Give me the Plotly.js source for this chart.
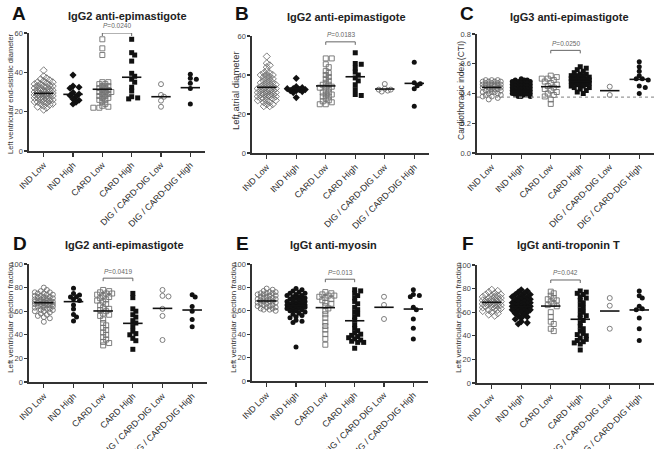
<!DOCTYPE html>
<html>
<head>
<meta charset="utf-8">
<script src="https://cdn.plot.ly/plotly-3.0.1.min.js"></script>
<style>
  html, body { margin: 0; padding: 0; background: #fff; }
  #chart { width: 657px; height: 449px; }
</style>
</head>
<body>
<div id="chart"></div>
<script>
// Antibody level groups (x categories shared by every panel)
const groups = ['IND Low', 'IND High', 'CARD Low', 'CARD High', 'DIG / CARD-DIG Low', 'DIG / CARD-DIG High'];

// Panel A: IgG2 anti-epimastigote vs LV end-systolic diameter
const aIndLow = [41, 38, 37, 36.5, 36, 35.5, 35, 34.5, 34, 34, 33.5, 33, 33, 32.5, 32, 32, 31.5, 31, 31, 30.5, 30.5, 30, 30, 30, 29.5, 29.5, 29, 29, 29, 28.5, 28.5, 28, 28, 28, 27.5, 27, 27, 26.5, 26.5, 26, 26, 25.5, 25, 25, 24.5, 24, 24, 23.5, 23, 22.5, 22, 21, 35, 33, 31, 27, 25, 29];
const aIndHigh = [38.6, 33, 32.4, 31.9, 29.8, 29, 28.2, 27.6, 26.5, 25.8, 24.8, 23.9];
const aCardLow = [56.8, 52.2, 48.8, 35, 35, 34, 34, 33, 33, 32, 32, 31, 31, 30, 30, 30, 29, 29, 28, 28, 27, 27, 26, 26, 25, 24, 23, 22.5, 22, 22];
const aCardHigh = [56.8, 50, 48.8, 45.7, 39.5, 38, 36.5, 35, 32.4, 30.5, 27.6, 27, 26.5];
const aDigLow = [34, 28.5, 27.6, 25.6, 22.5];
const aDigHigh = [39, 37, 36.5, 34.4, 31.8, 23.9];
const aCenter = [29.3, 28.8, 31.4, 37.5, 27.6, 32.2];

// Panel B: IgG2 anti-epimastigote vs left atrial diameter
const bIndLow = [49.5, 46, 45, 44, 42, 41, 41, 40, 40, 40, 39, 39, 38, 38, 37, 37, 36, 36, 36, 35, 35, 35, 34, 34, 34, 33, 33, 33, 33, 32, 32, 32, 32, 31, 31, 31, 31, 30, 30, 30, 30, 30, 29, 29, 29, 29, 28, 28, 28, 27, 27, 27, 26, 26, 25, 25, 24, 24];
const bIndHigh = [38.3, 34, 33.5, 33, 33, 32.5, 32.5, 32, 32, 31.5, 31, 28.4];
const bCardLow = [48.5, 48.5, 45.5, 44, 42, 41, 40, 39, 38, 37, 36, 35, 35, 34, 34, 33.5, 33, 32, 31, 31, 30, 30, 29, 29, 28, 27, 26.5, 26, 25, 25];
const bCardHigh = [51.4, 45.9, 45.5, 43.5, 41.5, 40, 38.5, 37, 35, 32.5, 30, 29.5];
const bDigLow = [35.4, 33, 32.5, 32.5, 32, 31.5];
const bDigHigh = [46.5, 36, 35.5, 34.5, 33, 24];
const bCenter = [33.7, 33.0, 34.4, 39.1, 32.8, 35.7];

// Panel C: IgG3 anti-epimastigote vs cardiothoracic index
const cIndLow = [0.49, 0.49, 0.49, 0.48, 0.48, 0.48, 0.48, 0.47, 0.47, 0.47, 0.46, 0.46, 0.46, 0.46, 0.45, 0.45, 0.45, 0.45, 0.44, 0.44, 0.44, 0.43, 0.43, 0.43, 0.42, 0.42, 0.42, 0.41, 0.41, 0.41, 0.40, 0.40, 0.39, 0.39, 0.38, 0.38, 0.37, 0.36];
const cIndHigh = [0.50, 0.49, 0.49, 0.49, 0.48, 0.48, 0.48, 0.48, 0.47, 0.47, 0.47, 0.47, 0.46, 0.46, 0.46, 0.46, 0.45, 0.45, 0.45, 0.45, 0.44, 0.44, 0.44, 0.44, 0.43, 0.43, 0.43, 0.43, 0.42, 0.42, 0.42, 0.42, 0.42, 0.41, 0.41, 0.41, 0.41, 0.40, 0.40, 0.40, 0.40, 0.39, 0.39, 0.39, 0.38, 0.38, 0.38];
const cCardLow = [0.52, 0.51, 0.50, 0.50, 0.49, 0.48, 0.47, 0.46, 0.45, 0.44, 0.43, 0.42, 0.41, 0.40, 0.39, 0.38, 0.36, 0.33];
const cCardHigh = [0.58, 0.57, 0.56, 0.55, 0.54, 0.53, 0.53, 0.52, 0.52, 0.52, 0.51, 0.51, 0.51, 0.50, 0.50, 0.50, 0.50, 0.49, 0.49, 0.49, 0.49, 0.48, 0.48, 0.48, 0.48, 0.47, 0.47, 0.47, 0.46, 0.46, 0.46, 0.45, 0.45, 0.44, 0.44, 0.43, 0.42, 0.41, 0.40];
const cDigLow = [0.446, 0.39];
const cDigHigh = [0.614, 0.58, 0.55, 0.52, 0.50, 0.50, 0.49, 0.45, 0.44, 0.40];
const cCenter = [0.441, 0.424, 0.446, 0.480, 0.419, 0.495];
const cReference = 0.375;

// Panel D: IgG2 anti-epimastigote vs LV ejection fraction
const dIndLow = [80, 78, 77, 76, 76, 75, 75, 74, 74, 73, 73, 72, 72, 72, 71, 71, 70, 70, 70, 69, 69, 69, 68, 68, 68, 68, 67, 67, 67, 67, 66, 66, 66, 65, 65, 65, 64, 64, 64, 63, 63, 62, 62, 61, 61, 60, 60, 59, 58, 57, 56, 55, 54, 51];
const dIndHigh = [79.5, 75, 73.7, 72.3, 72, 70.3, 69, 65.3, 61.9, 57.3, 55, 51.7];
const dCardLow = [78, 77, 76, 75, 75, 74, 73, 72, 71, 70, 69, 68, 66, 65, 63, 62, 61, 60, 58, 57, 56, 53, 50, 48, 46, 44, 42, 40, 38, 36, 34, 33, 31];
const dCardHigh = [75.1, 71.5, 62, 60, 57, 55, 52, 50, 47, 43, 41, 40, 37, 35, 27.7];
const dDigLow = [78, 73, 72.5, 62, 56, 35.6];
const dDigHigh = [74, 72, 64, 60, 53, 46.9];
const dCenter = [67.2, 68.1, 60.2, 49.7, 62.4, 61.0];

// Panel E: IgGt anti-myosin vs LV ejection fraction
const eIndLow = [79, 78, 77, 76, 76, 75, 75, 75, 74, 74, 73, 73, 72, 72, 71, 71, 70, 70, 70, 69, 69, 68, 68, 68, 67, 67, 66, 66, 65, 65, 64, 64, 63, 63, 62, 62, 61, 61, 60];
const eIndHigh = [79, 78, 77, 76, 75, 75, 74, 73, 73, 72, 72, 71, 71, 70, 70, 69, 69, 68, 68, 67, 67, 66, 66, 66, 65, 65, 65, 64, 64, 64, 63, 63, 63, 62, 62, 61, 61, 60, 60, 59, 58, 57, 56, 55, 54, 52, 51, 50, 29];
const eCardLow = [76, 75, 74, 73, 73, 72, 71, 70, 69, 67, 66, 64, 62, 60, 57, 54, 50, 47, 44, 40, 36, 31];
const eCardHigh = [78, 77, 75, 73, 71, 68, 66, 63, 61, 59, 57, 55, 52, 48, 45, 43, 41, 40, 39, 38, 37, 36, 35, 34, 33, 33, 28];
const eDigLow = [72, 65, 53];
const eDigHigh = [78, 74, 73, 72, 63, 61, 53, 45, 36];
const eCenter = [68.4, 64.4, 62.7, 51.5, 63.0, 61.5];

// Panel F: IgGt anti-troponin T vs LV ejection fraction
const fIndLow = [79, 78, 77, 76, 75, 75, 74, 74, 73, 73, 72, 72, 71, 71, 70, 70, 70, 69, 69, 69, 68, 68, 68, 67, 67, 67, 66, 66, 65, 65, 64, 64, 63, 63, 62, 62, 61, 60, 59, 58, 57];
const fIndHigh = [79, 78, 77, 76, 75, 75, 74, 73, 73, 72, 72, 71, 71, 70, 70, 69, 69, 68, 68, 67, 67, 66, 66, 66, 65, 65, 65, 64, 64, 64, 63, 63, 62, 62, 61, 61, 60, 60, 59, 58, 57, 56, 55, 54, 52, 51, 50];
const fCardLow = [77.4, 76, 74, 72, 71, 70, 69, 67, 66, 65, 60, 56, 52, 50, 46, 44];
const fCardHigh = [78, 77, 76, 75, 73, 72, 70, 68, 66, 64, 62, 60, 58, 57, 55, 53, 51, 48, 46, 44, 42, 41, 40, 38, 37, 36, 35, 34, 33, 28];
const fDigLow = [72, 65.5, 46];
const fDigHigh = [78, 74, 72, 65, 63, 62, 55, 46, 36];
const fCenter = [68.4, 64.7, 65.2, 54.0, 61.0, 61.9];

// Significance brackets (CARD Low vs CARD High)
const pValues = ['0.0240', '0.0183', '0.0250', '0.0419', '0.013', '0.042'];
const bracketLevels = [60, 57, 0.69, 88, 87, 87.3];

// ---- layout of the six panels (pixel boxes of the plotting areas) ----
const W = 657, H = 449;
const FONT = 'Arial, "Liberation Sans", sans-serif';
const panels = [
  { letter: 'A', title: 'IgG2 anti-epimastigote', ytitle: 'Left ventricular end-sistolic diameter',
    series: [aIndLow, aIndHigh, aCardLow, aCardHigh, aDigLow, aDigHigh], center: aCenter,
    yMax: 60, dtick: 20, box: [29, 205, 33, 151], ind: 'diamond',
    letterPos: [19, 13], titlePos: [127, 16], ytitlePos: [10, 94], ytitleSize: 7.5 },
  { letter: 'B', title: 'IgG2 anti-epimastigote', ytitle: 'Left atrial diameter',
    series: [bIndLow, bIndHigh, bCardLow, bCardHigh, bDigLow, bDigHigh], center: bCenter,
    yMax: 60, dtick: 20, box: [252, 429, 36, 153], ind: 'diamond',
    letterPos: [242, 13], titlePos: [346, 17], ytitlePos: [236, 91], ytitleSize: 9.5 },
  { letter: 'C', title: 'IgG3 anti-epimastigote', ytitle: 'Cardiothoracic index (CTI)',
    series: [cIndLow, cIndHigh, cCardLow, cCardHigh, cDigLow, cDigHigh], center: cCenter,
    yMax: 0.8, dtick: 0.2, box: [477, 654, 34, 153], ind: 'circle', tickformat: '.1f',
    letterPos: [467, 13], titlePos: [569, 17], ytitlePos: [461, 91], ytitleSize: 8.5 },
  { letter: 'D', title: 'IgG2 anti-epimastigote', ytitle: 'Left ventricular ejection fraction',
    series: [dIndLow, dIndHigh, dCardLow, dCardHigh, dDigLow, dDigHigh], center: dCenter,
    yMax: 100, dtick: 20, box: [29, 207, 264, 382], ind: 'circle',
    letterPos: [20, 243], titlePos: [124, 245], ytitlePos: [10, 318], ytitleSize: 8 },
  { letter: 'E', title: 'IgGt anti-myosin', ytitle: 'Left ventricular ejection fraction',
    series: [eIndLow, eIndHigh, eCardLow, eCardHigh, eDigLow, eDigHigh], center: eCenter,
    yMax: 100, dtick: 20, box: [252, 428, 264, 381], ind: 'circle',
    letterPos: [242, 243], titlePos: [333, 245], ytitlePos: [233, 318], ytitleSize: 8 },
  { letter: 'F', title: 'IgGt anti-troponin T', ytitle: 'Left ventricular ejection fraction',
    series: [fIndLow, fIndHigh, fCardLow, fCardHigh, fDigLow, fDigHigh], center: fCenter,
    yMax: 100, dtick: 20, box: [477, 654, 265, 383], ind: 'diamond',
    letterPos: [468, 243], titlePos: [568, 245], ytitlePos: [458, 318], ytitleSize: 8 }
];

const X_MIN = 0.5, X_MAX = 6.5;
const px = x => x / W;
const py = y => 1 - y / H;

// Spread points of one group sideways so that markers do not pile up
// (simple beeswarm in pixel space, then converted back to x units).
function swarm(values, center, pxPerX, pxPerY, gap, step, maxK) {
  const order = values.map((v, i) => i).sort((a, b) => values[b] - values[a]);
  const placed = [];
  const xs = new Array(values.length);
  order.forEach(i => {
    const yPix = values[i] * pxPerY;
    let best = 0, bestDist = -1;
    for (let k = 0; k <= maxK; k++) {
      const cands = k === 0 ? [0] : [k * step, -k * step];
      let found = false;
      for (const off of cands) {
        let minD = Infinity;
        placed.forEach(p => { minD = Math.min(minD, Math.hypot(p[0] - off, p[1] - yPix)); });
        if (minD >= gap) { best = off; found = true; break; }
        if (minD > bestDist) { bestDist = minD; best = off; }
      }
      if (found) break;
    }
    placed.push([best, yPix]);
    xs[i] = center + best / pxPerX;
  });
  return xs;
}

const traces = [];
const layout = {
  width: W, height: H, margin: { l: 0, r: 0, t: 0, b: 0 },
  paper_bgcolor: '#fff', plot_bgcolor: 'rgba(0,0,0,0)',
  showlegend: false, font: { family: FONT, color: '#222' },
  annotations: [], shapes: []
};

panels.forEach((p, k) => {
  const n = k === 0 ? '' : String(k + 1);
  const xName = 'x' + n, yName = 'y' + n;
  const [x0, x1, yTop, yBot] = p.box;
  const pxPerX = (x1 - x0) / (X_MAX - X_MIN);
  const pxPerY = (yBot - yTop) / p.yMax;

  layout['xaxis' + n] = {
    domain: [px(x0), px(x1)], anchor: yName, range: [X_MIN, X_MAX],
    tickmode: 'array', tickvals: [1, 2, 3, 4, 5, 6], ticktext: groups, tickangle: -45,
    tickfont: { size: 8.8, color: '#2a2a2a', family: FONT },
    showline: true, linecolor: '#333', linewidth: 1.6, ticks: 'outside', ticklen: 4,
    tickwidth: 1.2, tickcolor: '#333', showgrid: false, zeroline: false, fixedrange: true
  };
  layout['yaxis' + n] = {
    domain: [py(yBot), py(yTop)], anchor: xName, range: [0, p.yMax],
    tickmode: 'linear', tick0: 0, dtick: p.dtick, tickformat: p.tickformat || '',
    tickfont: { size: 7.5, color: '#444', family: FONT },
    showline: true, linecolor: '#333', linewidth: 1.6, ticks: 'outside', ticklen: 3,
    tickwidth: 1.2, tickcolor: '#333', showgrid: false, zeroline: false, fixedrange: true
  };

  const symbols = [p.ind + '-open', p.ind, 'square-open', 'square', 'circle-open', 'circle'];
  p.series.forEach((vals, g) => {
    const open = g % 2 === 0;
    const sq = g === 2 || g === 3;
    traces.push({
      type: 'scatter', mode: 'markers', xaxis: xName, yaxis: yName,
      x: swarm(vals, g + 1, pxPerX, pxPerY, 3.4, 3, 3), y: vals,
      marker: {
        symbol: symbols[g], size: sq ? 5 : (p.ind === 'diamond' && g < 2 ? 5.5 : 5),
        color: open ? '#707070' : '#111',
        line: { width: open ? 0.9 : 0, color: open ? '#707070' : '#111' }
      },
      hoverinfo: 'y'
    });
  });

  // group centre lines
  const lx = [], ly = [];
  p.center.forEach((c, g) => { lx.push(g + 1 - 0.33, g + 1 + 0.33, null); ly.push(c, c, null); });
  traces.push({ type: 'scatter', mode: 'lines', xaxis: xName, yaxis: yName, x: lx, y: ly,
    line: { color: '#111', width: 1.6 }, hoverinfo: 'skip' });

  // significance bracket; its label sits in paper space so it stays visible above the axis range
  const lvl = bracketLevels[k];
  const drop = 3 / pxPerY;
  layout.shapes.push({ type: 'path', xref: xName, yref: yName,
    path: `M 3,${lvl - drop} L 3,${lvl} L 4,${lvl} L 4,${lvl - drop}`,
    line: { color: '#666', width: 1 } });
  layout.annotations.push({ xref: xName, yref: 'paper', x: 3.5, y: py(yBot - lvl * pxPerY - 1.5),
    text: '<i>P</i>=' + pValues[k], showarrow: false, yanchor: 'bottom',
    font: { size: 6.5, color: '#666', family: FONT } });

  // panel letter, title and y-axis title
  layout.annotations.push({ xref: 'paper', yref: 'paper', x: px(p.letterPos[0]), y: py(p.letterPos[1]),
    text: '<b>' + p.letter + '</b>', showarrow: false, xanchor: 'center', yanchor: 'middle',
    font: { size: 19, color: '#111', family: FONT } });
  layout.annotations.push({ xref: 'paper', yref: 'paper', x: px(p.titlePos[0]), y: py(p.titlePos[1]),
    text: '<b>' + p.title + '</b>', showarrow: false, xanchor: 'center', yanchor: 'middle',
    font: { size: 11, color: '#222', family: FONT } });
  layout.annotations.push({ xref: 'paper', yref: 'paper', x: px(p.ytitlePos[0]), y: py(p.ytitlePos[1]),
    text: p.ytitle, showarrow: false, textangle: -90, xanchor: 'center', yanchor: 'middle',
    font: { size: p.ytitleSize, color: '#333', family: FONT } });
});

// reference level in panel C
layout.shapes.push({ type: 'line', xref: 'x3', yref: 'y3', x0: X_MIN, x1: X_MAX, y0: cReference, y1: cReference,
  line: { color: '#999', width: 1.2, dash: 'dot' } });

Plotly.newPlot('chart', traces, layout, { displayModeBar: false, staticPlot: true });
</script>
</body>
</html>
